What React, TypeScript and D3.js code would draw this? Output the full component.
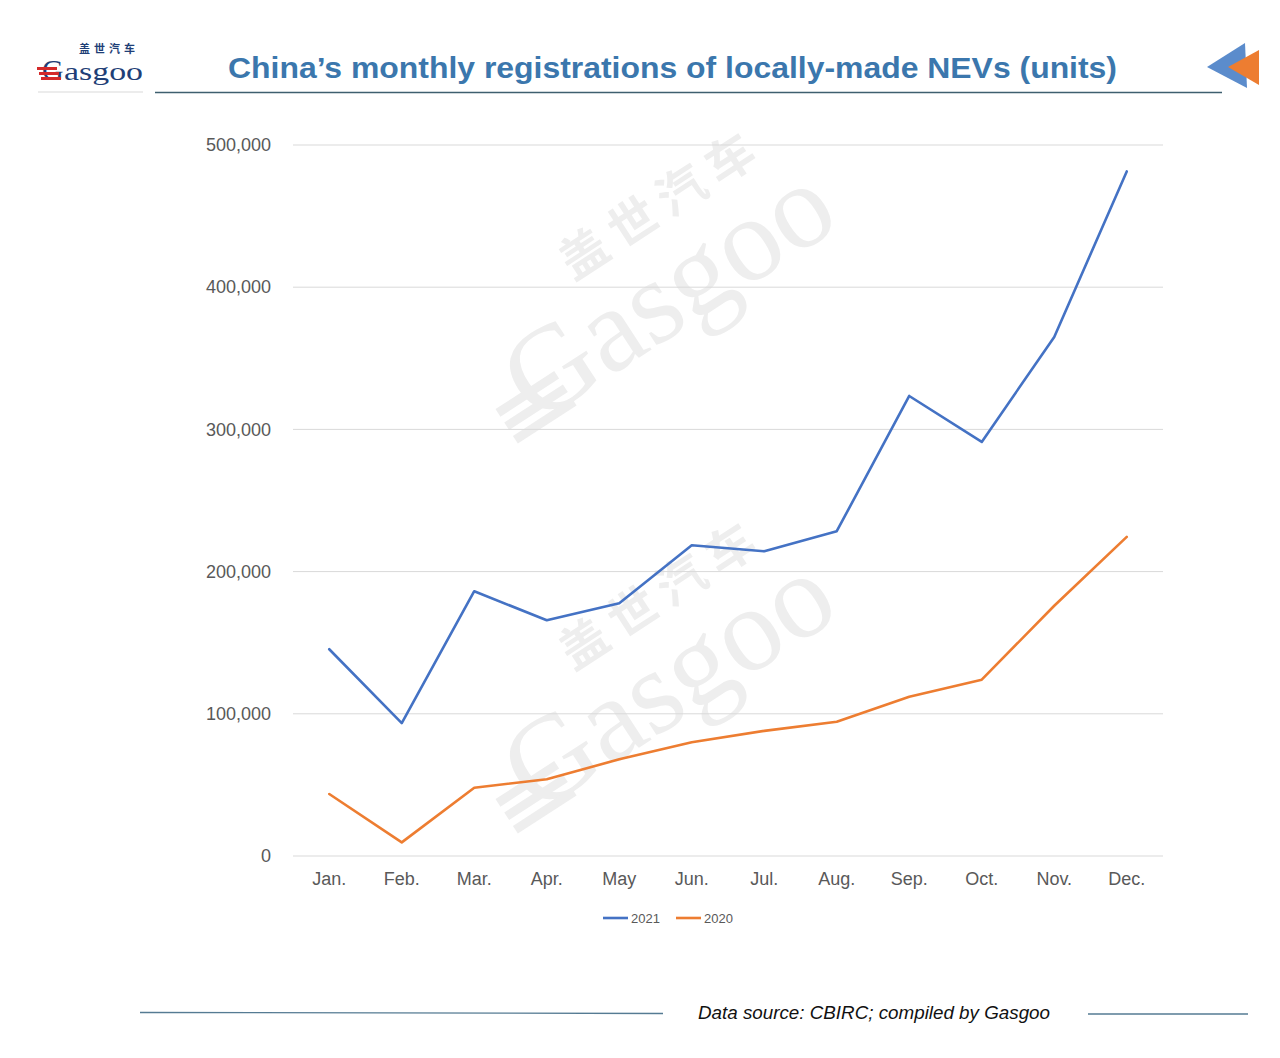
import React, { useEffect, useRef } from "react";
import * as d3 from "d3";

const months = ["Jan.", "Feb.", "Mar.", "Apr.", "May", "Jun.", "Jul.", "Aug.", "Sep.", "Oct.", "Nov.", "Dec."];
const regs2021 = [145400, 93500, 186200, 165800, 177800, 218500, 214300, 228400, 323500, 291200, 365000, 481400];
const regs2020 = [43600, 9600, 48000, 54000, 68000, 80000, 88000, 94400, 112000, 124000, 176000, 224400];
const yTicks = [0, 100000, 200000, 300000, 400000, 500000];
const seriesNames = ["2021", "2020"];
const seriesColors = ["#4472C4", "#ED7D31"];

const W = 1280;
const H = 1058;
const margin = { top: 145, right: 117, bottom: 202, left: 293 };

const Chart = () => {
	const ref = useRef<SVGSVGElement>(null);

	useEffect(() => {
		const svg = d3.select(ref.current);
		svg.selectAll("*").remove();

		const x = d3
			.scaleBand()
			.domain(months)
			.range([margin.left, W - margin.right]);
		const y = d3
			.scaleLinear()
			.domain([0, 500000])
			.range([H - margin.bottom, margin.top]);

		svg.append("rect").attr("width", W).attr("height", H).attr("fill", "#fff");

		// watermarks
		const wm = [
			[645, 318],
			[645, 708],
		];
		wm.forEach(([cx, cy]) => {
			const g = svg
				.append("g")
				.attr("transform", `translate(${cx},${cy}) rotate(-33)`)
				.attr("fill", "#eeeeee");
			g.append("text")
				.attr("x", -150)
				.attr("y", 30)
				.style("font-family", "'Liberation Serif', 'DejaVu Serif', serif")
				.style("font-size", "120px")
				.text("Gasgoo");
			g.append("text")
				.attr("x", -40)
				.attr("y", -70)
				.style("font-family", "'Noto Sans CJK SC', sans-serif")
				.style("font-weight", "bold")
				.style("font-size", "48px")
				.style("letter-spacing", "10px")
				.text("盖世汽车");
			[0, 1, 2].forEach((i) => {
				g.append("rect")
					.attr("x", -175)
					.attr("y", -5 + i * 16)
					.attr("width", 70)
					.attr("height", 9);
			});
		});

		// gridlines
		svg
			.append("g")
			.selectAll("line")
			.data(yTicks)
			.join("line")
			.attr("x1", margin.left)
			.attr("x2", W - margin.right)
			.attr("y1", (d) => y(d))
			.attr("y2", (d) => y(d))
			.attr("stroke", "#d9d9d9")
			.attr("stroke-width", 1);

		// y axis
		const yAxis = d3
			.axisLeft(y)
			.tickValues(yTicks)
			.tickSize(0)
			.tickPadding(22)
			.tickFormat((d) => d3.format(",")(d as number));
		const ya = svg
			.append("g")
			.attr("transform", `translate(${margin.left},0)`)
			.call(yAxis);
		ya.select(".domain").remove();
		ya.selectAll("text")
			.attr("fill", "#595959")
			.style("font-family", "'Liberation Sans', Arial, sans-serif")
			.style("font-size", "18px");

		// x axis
		const xAxis = d3.axisBottom(x).tickSize(0).tickPadding(16);
		const xa = svg
			.append("g")
			.attr("transform", `translate(0,${H - margin.bottom})`)
			.call(xAxis);
		xa.select(".domain").remove();
		xa.selectAll("text")
			.attr("fill", "#595959")
			.style("font-family", "'Liberation Sans', Arial, sans-serif")
			.style("font-size", "18px");

		// lines
		const line = d3
			.line<number>()
			.x((d, i) => (x(months[i]) as number) + x.bandwidth() / 2)
			.y((d) => y(d));
		[regs2021, regs2020].forEach((s, i) => {
			svg.append("path")
				.datum(s)
				.attr("d", line)
				.attr("fill", "none")
				.attr("stroke", seriesColors[i])
				.attr("stroke-width", 2.6)
				.attr("stroke-linejoin", "round")
				.attr("stroke-linecap", "round");
		});

		// legend
		const leg = svg.append("g").attr("transform", "translate(603,918)");
		seriesNames.forEach((n, i) => {
			const lg = leg.append("g").attr("transform", `translate(${i * 73},0)`);
			lg.append("line")
				.attr("x1", 0)
				.attr("x2", 25)
				.attr("stroke", seriesColors[i])
				.attr("stroke-width", 2.6);
			lg.append("text")
				.attr("x", 28)
				.attr("y", 5)
				.attr("fill", "#595959")
				.style("font-family", "'Liberation Sans', Arial, sans-serif")
				.style("font-size", "13px")
				.text(n);
		});

		// header
		svg.append("text")
			.attr("x", 228)
			.attr("y", 78)
			.attr("textLength", 889)
			.attr("lengthAdjust", "spacingAndGlyphs")
			.attr("fill", "#3b77ad")
			.style("font-family", "'Liberation Sans', Arial, sans-serif")
			.style("font-weight", "bold")
			.style("font-size", "29px")
			.text("China\u2019s monthly registrations of locally-made NEVs (units)");
		svg.append("line")
			.attr("x1", 155)
			.attr("x2", 1222)
			.attr("y1", 92.5)
			.attr("y2", 92.5)
			.attr("stroke", "#3e5f6f")
			.attr("stroke-width", 1.4);

		// logo
		const logo = svg.append("g");
		logo.append("text")
			.attr("x", 42)
			.attr("y", 80)
			.attr("fill", "#1f3f77")
			.style("font-family", "'Liberation Serif', serif")
			.style("font-size", "30px")
			.text("G");
		logo.append("text")
			.attr("x", 64)
			.attr("y", 80)
			.attr("textLength", 79)
			.attr("lengthAdjust", "spacingAndGlyphs")
			.attr("fill", "#1f3f77")
			.style("font-family", "'Liberation Serif', serif")
			.style("font-size", "26px")
			.text("asgoo");
		[0, 1, 2].forEach((i) => {
			logo.append("rect")
				.attr("x", 37 + i * 2)
				.attr("y", 67 + i * 5)
				.attr("width", 20)
				.attr("height", 3)
				.attr("fill", "#d42a2a");
		});
		logo.append("text")
			.attr("x", 79)
			.attr("y", 53)
			.attr("fill", "#1f3f77")
			.style("font-family", "'Noto Sans CJK SC', sans-serif")
			.style("font-weight", "bold")
			.style("font-size", "11px")
			.style("letter-spacing", "4px")
			.text("盖世汽车");
		logo.append("line")
			.attr("x1", 38)
			.attr("x2", 143)
			.attr("y1", 92)
			.attr("y2", 92)
			.attr("stroke", "#c8c8c8")
			.attr("stroke-width", 0.7);

		// arrows
		svg.append("path")
			.attr("d", "M1207,67 L1245,43 L1247,88 Z")
			.attr("fill", "#5b8ccc");
		svg.append("path")
			.attr("d", "M1228,67 L1259,50 L1259,85 Z")
			.attr("fill", "#ed7d31");

		// footer
		svg.append("line")
			.attr("x1", 140)
			.attr("x2", 663)
			.attr("y1", 1012.5)
			.attr("y2", 1013.5)
			.attr("stroke", "#557b93")
			.attr("stroke-width", 1.3);
		svg.append("line")
			.attr("x1", 1088)
			.attr("x2", 1248)
			.attr("y1", 1014)
			.attr("y2", 1014)
			.attr("stroke", "#557b93")
			.attr("stroke-width", 1.3);
		svg.append("text")
			.attr("x", 698)
			.attr("y", 1019)
			.attr("textLength", 352)
			.attr("lengthAdjust", "spacingAndGlyphs")
			.attr("fill", "#111")
			.style("font-family", "'Liberation Sans Narrow', 'Liberation Sans', Arial, sans-serif")
			.style("font-style", "italic")
			.style("font-size", "18px")
			.text("Data source: CBIRC; compiled by Gasgoo");
	}, []);

	return (
		<svg
			ref={ref}
			width={W}
			height={H}
			style={{ position: "absolute", left: 0, top: 0, display: "block" }}
		/>
	);
};

export default function App() {
	return <Chart />;
}
